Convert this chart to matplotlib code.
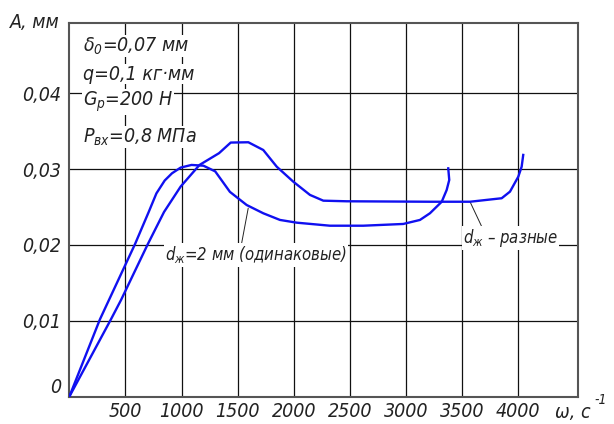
import matplotlib
matplotlib.use("Agg")
import matplotlib.pyplot as plt
from matplotlib import font_manager as fm

# look for a narrow / condensed italic face; fall back to Liberation Sans
FONT = None
cands = []
for f in fm.fontManager.ttflist:
    fn = f.fname.lower()
    if ('narrow' in fn or 'condensed' in fn) and ('italic' in fn or 'oblique' in fn) and 'bold' not in fn:
        cands.append(f)
if cands:
    pref = sorted(cands, key=lambda f: (0 if 'liberation' in f.fname.lower() else 1,
                                        0 if 'dejavu' in f.fname.lower() else 1))
    fm.fontManager.addfont(pref[0].fname)
    FONT = pref[0].name
    NARROW = True
else:
    FONT = "Liberation Sans"
    NARROW = False

plt.rcParams['font.family'] = [FONT, 'DejaVu Sans']
plt.rcParams['font.style'] = 'italic'
if NARROW:
    plt.rcParams['font.stretch'] = 'condensed'
plt.rcParams['mathtext.fontset'] = 'custom'
plt.rcParams['mathtext.rm'] = FONT + ':italic'
plt.rcParams['mathtext.it'] = FONT + ':italic'
plt.rcParams['mathtext.sf'] = FONT + ':italic'

FS = 14 if NARROW else 13
FS_ANN = 12 if NARROW else 11

# ---- data ----
omega_same = [0, 273, 585, 706, 776, 850, 915, 992, 1089, 1195, 1300, 1431, 1580, 1728,
              1877, 2026, 2322, 2619, 2975, 3124, 3213, 3318, 3362, 3385, 3376]
amp_same = [0, 0.0102, 0.0201, 0.0243, 0.0268, 0.0285, 0.02945, 0.0302, 0.03055, 0.03045,
            0.0297, 0.0270, 0.02527, 0.02418, 0.0233, 0.02294, 0.02254, 0.02254, 0.02277,
            0.0233, 0.02418, 0.0257, 0.02725, 0.02857, 0.0301]

omega_diff = [0, 371, 461, 699, 844, 992, 1160, 1334, 1438, 1595, 1728, 1848, 1995, 2144,
              2263, 2471, 3213, 3570, 3852, 3926, 4000, 4030, 4044]
amp_diff = [0, 0.0102, 0.01275, 0.0201, 0.02435, 0.0277, 0.03055, 0.0321, 0.0335, 0.03354,
            0.03252, 0.03032, 0.02835, 0.0266, 0.02584, 0.02576, 0.0257, 0.0257, 0.02616,
            0.02703, 0.029, 0.03032, 0.03187]

x_ticks = [500, 1000, 1500, 2000, 2500, 3000, 3500, 4000]
x_labels = ["500", "1000", "1500", "2000", "2500", "3000", "3500", "4000"]
y_ticks = [0, 0.01, 0.02, 0.03, 0.04]
y_labels = ["0", "0,01", "0,02", "0,03", "0,04"]

params = [r"$\delta_0$=0,07 мм", "q=0,1 кг·мм", r"$G_p$=200 Н", r"$P_{вх}$=0,8 МПа"]
label_same = r"$d_{ж}$=2 мм (одинаковые)"
label_diff = r"$d_{ж}$ – разные"

W, H = 614, 424
fig = plt.figure(figsize=(W / 100, H / 100), dpi=100)
ax = fig.add_axes([69.3 / W, 1 - 396.7 / H, (578 - 69.3) / W, (396.7 - 22.7) / H])
ax.set_xlim(0, 4532)
ax.set_ylim(0, 0.0493)

ax.set_xticks(x_ticks)
ax.set_xticklabels(x_labels)
ax.set_yticks(y_ticks)
ax.set_yticklabels(y_labels)
ax.tick_params(length=0, labelsize=FS, colors='#222222', pad=6)
ax.tick_params(axis='x', pad=4)
ax.get_yticklabels()[0].set_va('bottom')
ax.grid(True, color='#111111', lw=0.9)
ax.set_axisbelow(True)
for s in ax.spines.values():
    s.set_color('#555555')
    s.set_linewidth(1.5)

ax.plot(omega_same, amp_same, color='#1010f0', lw=1.7, zorder=3)
ax.plot(omega_diff, amp_diff, color='#1010f0', lw=1.7, zorder=3)

bbox = dict(facecolor='white', edgecolor='none', pad=1.0)
ax.annotate(label_same, xy=(1594, 0.02485), xytext=(853, 0.0187), fontsize=FS_ANN,
            ha='left', va='center', color='#222222', bbox=bbox, zorder=2,
            arrowprops=dict(arrowstyle='-', color='#222222', lw=0.7,
                            shrinkA=0, shrinkB=0, relpos=(0.42, 1.0)))
ax.annotate(label_diff, xy=(3570, 0.0257), xytext=(3507, 0.0209), fontsize=FS_ANN,
            ha='left', va='center', color='#222222', bbox=bbox, zorder=2,
            arrowprops=dict(arrowstyle='-', color='#222222', lw=0.7,
                            shrinkA=0, shrinkB=0, relpos=(0.2, 1.0)))

rows_y = [46, 74, 102, 137]
for t, yy in zip(params, rows_y):
    fig.text(83 / W, 1 - yy / H, t, fontsize=FS, ha='left', va='center', color='#222222',
             bbox=dict(facecolor='white', edgecolor='none', pad=0.5), zorder=5)

fig.text(34.7 / W, 1 - 22.5 / H, "А, мм", fontsize=FS, ha='center', va='center', color='#222222')
fig.text(555 / W, 1 - 413 / H, "ω, с", fontsize=FS, ha='left', va='center', color='#222222')
fig.text(594 / W, 1 - 400 / H, "-1", fontsize=10, ha='left', va='center', color='#222222')

fig.savefig("out.png", dpi=100)
